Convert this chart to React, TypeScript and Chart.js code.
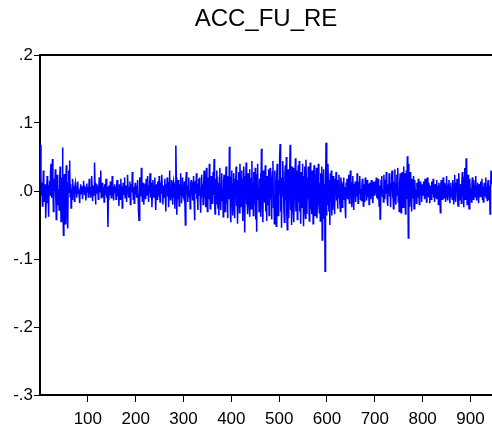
import React, { useEffect, useRef } from "react";
import { Chart, registerables } from "chart.js";

Chart.register(...registerables);

const chartTitle = "ACC_FU_RE";
const xTicks = [100, 200, 300, 400, 500, 600, 700, 800, 900];
const yTicks = [-0.3, -0.2, -0.1, 0, 0.1, 0.2];
const xMin = 0;
const xMax = 945;

const values = [
  .068, .020, -.005, .012, -.022, -.008, .030, .004, -.015, -.004, .010, -.040, -.012, .006, .022, -.018, .002, -.038, .008, .015,
  -.006, .028, .040, -.010, .012, .047, .005, -.030, -.012, .018, .002, .032, -.008, -.042, .006, .024, .010, -.020, .003, -.028,
  .012, .036, -.004, -.045, -.010, .020, .064, -.020, -.065, .008, .025, -.015, -.048, .010, .038, .002, -.030, -.055, .012, .030,
  -.002, .045, -.008, .010, -.025, .004, -.012, .018, .006, -.006, .002, -.015, .008, .012, -.004, .003, -.010, .006, .014, -.003,
  .002, -.008, -.018, .004, .010, .001, -.005, .007, -.012, .003, .015, .002, -.006, .008, -.002, -.014, .004, .011, -.001, .006,
  -.009, .003, .018, -.004, .006, -.010, .002, .022, .005, -.015, .004, .008, -.006, .042, .012, -.020, .003, .010, -.004, .007,
  .001, -.012, .006, .020, -.002, .004, .030, -.010, -.004, .012, .002, -.008, .006, -.016, .010, .003, -.006, .018, .002, -.010,
  .006, -.053, -.012, .008, .002, -.006, .014, .004, -.010, .001, .022, .008, -.004, -.014, .005, .010, -.002, .006, -.012, .003,
  .016, .004, -.008, .002, -.022, .010, .005, -.012, .018, -.003, .006, -.025, .004, .012, -.006, .002, .020, -.010, -.002, .008,
  -.016, .003, .024, .006, -.010, .002, -.004, .014, -.020, .005, .010, -.002, .028, .004, -.012, .006, -.018, .002, .012, -.005,
  .008, -.010, .003, .016, -.004, -.030, -.043, .010, .020, .004, -.008, .034, .006, -.015, .002, .012, -.020, -.004, .010, .003,
  -.012, .018, .004, -.006, .022, .002, -.016, .008, -.002, .026, -.010, .004, .012, -.024, -.004, .016, .002, -.010, .006, .020,
  -.006, -.028, .010, .003, -.012, .014, .004, -.008, .022, -.002, -.016, .006, .010, -.004, .024, .002, -.020, .008, -.010, .004,
  .018, -.006, -.030, .010, .002, .020, -.008, .004, -.024, .012, .030, -.004, -.014, .006, .016, -.002, -.020, .008, .014, -.010,
  .004, -.026, .010, .067, .020, -.035, .006, -.012, .016, .002, -.022, .010, -.004, .026, .004, -.018, .008, .020, -.006, .002,
  -.010, .014, -.020, -.050, .016, .028, -.004, .008, -.016, .004, .020, -.008, .002, -.026, .010, .016, -.006, .004, -.014, .012,
  .022, -.010, -.043, .006, .015, -.004, .026, -.012, .003, -.028, .010, .018, -.006, .020, -.014, -.032, .004, .024, -.008, .010,
  -.020, .006, .030, -.010, .004, -.024, .016, .034, -.004, -.030, .008, .020, -.012, .040, .006, -.026, -.008, .022, .002, -.018,
  .010, .028, -.006, .047, -.012, -.034, .004, .018, -.020, .030, .006, -.026, .012, -.036, .020, .034, -.010, -.028, .008, .026,
  -.014, .004, -.038, .016, .024, -.006, -.030, .010, .036, -.018, .002, -.040, .022, .008, -.012, .065, .014, -.030, -.046, .020,
  .030, -.008, -.036, .010, .026, -.016, -.040, .018, .004, .036, -.022, .008, -.048, .016, .028, -.006, -.032, .040, .012, -.024,
  .006, .030, -.014, -.044, .016, .036, -.004, -.061, .022, .008, .042, -.020, -.010, -.034, .026, .004, -.018, .032, -.038, .010,
  .020, -.026, .044, -.008, .012, -.036, .028, .004, -.020, .034, -.042, .010, -.060, .024, .040, -.012, .006, -.030, .018, -.004,
  .026, -.038, .062, .008, -.024, -.046, .030, .012, -.016, .004, .038, -.030, .016, -.044, .022, .006, -.020, .032, -.036, .010,
  .034, -.012, .020, -.042, .008, .028, .044, -.024, -.006, -.048, .030, .010, -.020, -.052, .024, .040, -.010, -.036, .016, -.004,
  .048, .069, -.030, .012, -.054, .020, -.008, .044, .006, -.030, -.046, .026, .038, -.014, .050, -.034, -.057, .018, .032, -.040,
  .010, .026, .068, -.028, .004, -.050, .036, .012, -.022, .034, -.046, .006, .020, .048, -.030, -.010, .030, -.042, .004, .038,
  -.016, .044, -.030, .008, -.048, .028, .012, -.024, .040, -.006, -.052, .022, .036, -.018, -.040, .046, .010, -.034, .020, -.012,
  .036, -.008, -.044, .020, .042, -.026, .004, -.034, .030, .014, -.048, .018, .038, -.010, -.036, .024, .008, .034, -.040, -.016,
  .022, .040, -.020, -.032, .012, -.044, .026, .006, .036, -.072, -.020, .024, .032, -.040, .010, -.118, .004, .071, -.036, .016,
  -.020, .040, .008, -.030, .016, -.050, .026, -.010, .030, -.036, .004, -.028, .022, .012, -.016, -.034, .018, .006, .028, -.014,
  .004, -.026, .016, -.010, .024, .002, -.018, -.030, .020, .008, .014, -.024, -.004, .010, .020, -.012, .006, -.022, -.040, .012,
  .004, .018, -.012, .010, .024, -.004, -.018, .006, .030, -.008, .002, -.024, .012, .022, -.006, -.028, .010, .002, .014, -.016,
  .002, -.008, .026, .004, -.018, .010, .012, -.004, .022, -.012, .003, -.014, .008, .018, -.002, -.022, .010, .004, -.016, .020,
  -.004, .006, -.014, .016, .002, -.008, .010, -.020, .012, .004, -.012, .008, .016, -.002, -.010, -.018, .014, .004, -.006, .010,
  .012, -.004, .020, -.010, .002, -.012, .018, .004, -.022, .008, -.041, -.030, .016, .006, .022, -.008, .002, -.016, .024, .004,
  -.012, .016, -.004, .028, .006, -.014, -.022, .010, .002, .026, -.008, .012, -.024, .004, .020, .030, -.010, .006, -.026, .014,
  .004, .032, -.012, -.020, .010, .024, -.006, .034, -.016, .002, -.030, .012, .026, -.008, -.032, .018, .028, -.004, -.024, .036,
  .010, -.018, .026, -.034, .004, .030, -.012, .051, .020, -.069, .040, -.022, .010, .028, -.016, .002, -.030, .018, .008, -.010,
  .022, -.026, .004, .016, -.008, .002, -.018, .012, .006, -.010, .018, -.004, -.020, .008, .014, -.006, .002, -.016, .010, .004,
  -.006, .014, .002, -.012, .018, -.004, .006, -.016, .010, .020, -.002, -.008, .012, .004, -.018, .008, .002, -.012, .014, -.004,
  .006, .018, -.010, .002, -.016, .010, .004, -.006, .016, -.012, .002, .008, -.020, .012, .004, -.008, -.032, .010, .016, -.004,
  -.012, .006, .020, -.002, -.010, .012, .004, -.016, .008, .022, -.006, .002, -.014, .010, .016, -.004, -.018, .006, .012, -.008,
  .004, -.012, .016, .002, -.020, .010, .024, -.006, -.016, .012, .004, .018, -.010, -.022, .008, .026, -.004, -.014, .010, .002,
  -.018, .014, .028, -.008, .004, -.024, .020, .034, -.012, .006, .048, .040, -.020, -.010, .024, .002, -.026, .012, .018, -.008,
  .004, -.016, .010, .020, -.006, -.012, .016, .002, -.010, .008, .022, -.004, -.014, .006, .012, -.002, -.018, .010, .004, -.008,
  .014, -.006, .002, .018, -.012, .006, -.016, .004, .012, -.008, .002, .020, -.010, .006, -.014, .010, .016, -.004, -.012, .008,
  -.034, .002, .030, .010,
];

const fmtY = (v: number) => v.toFixed(1).replace(/^(-?)0\./, "$1.");

const frameAndTitle = {
  id: "frameAndTitle",
  afterDraw(chart: any) {
    const { ctx, chartArea } = chart;
    ctx.save();
    ctx.strokeStyle = "#000";
    ctx.lineWidth = 2;
    ctx.beginPath();
    ctx.moveTo(chartArea.left - 1, chartArea.top);
    ctx.lineTo(chart.width, chartArea.top);
    ctx.stroke();
    ctx.fillStyle = "#000";
    ctx.font = "24px 'Liberation Sans', Arial, sans-serif";
    ctx.textAlign = "center";
    ctx.textBaseline = "alphabetic";
    ctx.fillText(chartTitle, (chartArea.left + chart.width) / 2, 26);
    ctx.restore();
  },
};

export default function App() {
  const ref = useRef<HTMLCanvasElement | null>(null);
  useEffect(() => {
    document.body.style.margin = "0";
    const canvas = ref.current!;
    const tickFont = { family: "'Liberation Sans', Arial, sans-serif", size: 17 };
    const chart = new Chart(canvas, {
      type: "line",
      data: {
        datasets: [
          {
            data: values.map((v, i) => ({ x: i + 1, y: v })),
            borderColor: "#0000ff",
            borderWidth: 1.5,
            pointRadius: 0,
            tension: 0,
            fill: false,
          },
        ],
      },
      options: {
        responsive: false,
        animation: false,
        layout: { padding: { left: 0, right: 0, top: 55, bottom: 0 } },
        plugins: {
          legend: { display: false },
          tooltip: { enabled: false },
          title: { display: false },
        },
        scales: {
          x: {
            type: "linear",
            min: xMin,
            max: xMax,
            afterBuildTicks: (s: any) => {
              s.ticks = xTicks.map((v) => ({ value: v }));
            },
            afterFit: (s: any) => {
              s.height = 39;
            },
            grid: { display: true, drawOnChartArea: false, drawTicks: true, tickLength: 7, color: "#000", lineWidth: 1 },
            border: { display: true, color: "#000", width: 2 },
            ticks: { color: "#000", font: tickFont, padding: 7, maxRotation: 0, autoSkip: false, callback: (v: any) => String(v) },
          },
          y: {
            type: "linear",
            min: -0.3,
            max: 0.2,
            afterBuildTicks: (s: any) => {
              s.ticks = yTicks.map((v) => ({ value: v }));
            },
            afterFit: (s: any) => {
              s.width = 40;
            },
            grid: { display: true, drawOnChartArea: false, drawTicks: true, tickLength: 6, color: "#000", lineWidth: 1 },
            border: { display: true, color: "#000", width: 2 },
            ticks: { color: "#000", font: tickFont, padding: 1, autoSkip: false, callback: (v: any) => fmtY(Number(v)) },
          },
        },
      },
      plugins: [frameAndTitle],
    });
    return () => chart.destroy();
  }, []);
  return (
    <div style={{ width: 492, height: 434 }}>
      <canvas ref={ref} width={492} height={434} style={{ display: "block" }} />
    </div>
  );
}
